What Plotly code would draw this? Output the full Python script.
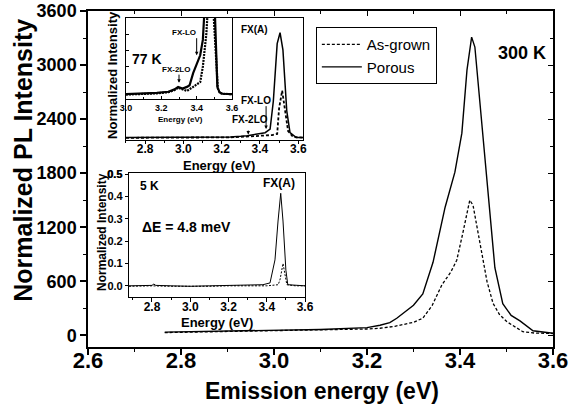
import plotly.graph_objects as go

# ---------------- Main 300 K spectra ----------------
main_e_asgrown = [2.765, 2.9, 3.0, 3.1, 3.2, 3.228, 3.26, 3.3, 3.32, 3.34, 3.361, 3.38, 3.393, 3.406,
                  3.421, 3.428, 3.439, 3.449, 3.458, 3.471, 3.485, 3.501, 3.535, 3.56, 3.6]
main_i_asgrown = [30, 40, 50, 58, 70, 78, 100, 144, 190, 330, 560, 700, 833, 1133,
                  1500, 1444, 1133, 850, 600, 355, 230, 150, 40, 25, 20]
main_e_porous = [2.765, 2.9, 3.0, 3.1, 3.2, 3.228, 3.249, 3.264, 3.3, 3.32, 3.342, 3.368, 3.389, 3.404,
                 3.415, 3.425, 3.432, 3.449, 3.469, 3.475, 3.492, 3.51, 3.529, 3.557, 3.6]
main_i_porous = [35, 45, 55, 65, 85, 111, 140, 189, 333, 460, 810, 1422, 1811, 2244,
                 2944, 3310, 3200, 2200, 1050, 750, 350, 220, 160, 50, 22]
main_xticks = [2.6, 2.8, 3.0, 3.2, 3.4, 3.6]
main_yticks = [0, 600, 1200, 1800, 2400, 3000, 3600]

# ---------------- Upper inset (FX(A), 77 K) ----------------
up_e_porous = [2.7, 2.9, 3.1, 3.245, 3.3, 3.334, 3.386, 3.427, 3.453, 3.47, 3.49, 3.505, 3.52,
               3.54, 3.557, 3.59, 3.625]
up_i_porous = [0.02, 0.02, 0.022, 0.025, 0.03, 0.035, 0.05, 0.06, 0.09, 0.32, 0.79, 0.88, 0.74,
               0.24, 0.06, 0.02, 0.02]
up_e_asgrown = [2.7, 2.9, 3.1, 3.245, 3.35, 3.417, 3.464, 3.49, 3.5, 3.516, 3.53, 3.547, 3.573, 3.625]
up_i_asgrown = [0.018, 0.018, 0.02, 0.022, 0.03, 0.033, 0.041, 0.05, 0.26, 0.405, 0.26, 0.074, 0.025, 0.02]
up_xticks = [2.8, 3.0, 3.2, 3.4, 3.6]

# ---------------- Inner 77 K zoom ----------------
k77_e_porous = [3.0, 3.1, 3.175, 3.24, 3.275, 3.295, 3.32, 3.345, 3.36, 3.38, 3.41, 3.42, 3.435,
                3.447, 3.46, 3.48, 3.495, 3.503, 3.51, 3.517, 3.53, 3.545, 3.6]
k77_i_porous = [0.06, 0.065, 0.075, 0.09, 0.12, 0.15, 0.13, 0.15, 0.17, 0.32, 0.5, 0.54, 0.73,
                1.0, 1.6, 2.5, 1.6, 1.0, 0.45, 0.15, 0.08, 0.065, 0.06]
k77_e_asgrown = [3.0, 3.1, 3.175, 3.24, 3.275, 3.295, 3.32, 3.345, 3.38, 3.42, 3.435, 3.455, 3.46,
                 3.48, 3.497, 3.51, 3.52, 3.53, 3.545, 3.6]
k77_i_asgrown = [0.055, 0.06, 0.07, 0.085, 0.11, 0.14, 0.12, 0.1, 0.15, 0.21, 0.4, 0.81, 1.0,
                 2.0, 1.0, 0.52, 0.13, 0.08, 0.065, 0.06]
k77_xticks = [3.0, 3.2, 3.4, 3.6]

# ---------------- Lower inset (5 K) ----------------
k5_e_porous = [2.68, 2.75, 2.8, 2.81, 2.82, 2.9, 3.0, 3.1, 3.2, 3.3, 3.38, 3.417, 3.443, 3.459,
               3.473, 3.485, 3.5, 3.51, 3.55, 3.6]
k5_i_porous = [0.0, 0.0, 0.002, 0.008, 0.002, 0.0, -0.002, 0.0, 0.002, 0.002, 0.005, 0.013, 0.116, 0.29,
               0.414, 0.29, 0.07, 0.005, 0.002, 0.0]
k5_e_asgrown = [2.68, 2.8, 2.9, 3.0, 3.1, 3.2, 3.3, 3.4, 3.46, 3.47, 3.485, 3.5, 3.505, 3.55, 3.6]
k5_i_asgrown = [-0.002, 0.0, -0.002, -0.003, -0.002, 0.0, 0.0, 0.0, 0.005, 0.03, 0.1, 0.035, 0.005, 0.0, 0.0]
k5_xticks = [2.8, 3.0, 3.2, 3.4, 3.6]
k5_ytop = 0.5

FONT = "Liberation Sans, Arial, sans-serif"
BOLD = dict(family=FONT, color="black", weight="bold")

fig = go.Figure()

# main traces
fig.add_trace(go.Scatter(x=main_e_asgrown, y=main_i_asgrown, name="As-grown", mode="lines",
                         line=dict(color="black", width=1.3, dash="3px,2px")))
fig.add_trace(go.Scatter(x=main_e_porous, y=main_i_porous, name="Porous", mode="lines",
                         line=dict(color="black", width=1.4)))
# dummy for overlay axes (top/right inside ticks)
fig.add_trace(go.Scatter(x=[main_e_porous[0]], y=[main_i_porous[0]], xaxis="x5", yaxis="y5",
                         mode="markers", marker=dict(opacity=0), showlegend=False, hoverinfo="skip"))

# upper inset
fig.add_trace(go.Scatter(x=up_e_asgrown, y=up_i_asgrown, xaxis="x2", yaxis="y2", mode="lines",
                         showlegend=False, line=dict(color="black", width=1.8, dash="3px,2px")))
fig.add_trace(go.Scatter(x=up_e_porous, y=up_i_porous, xaxis="x2", yaxis="y2", mode="lines",
                         showlegend=False, line=dict(color="black", width=1.5)))
# inner 77 K
fig.add_trace(go.Scatter(x=k77_e_asgrown, y=k77_i_asgrown, xaxis="x3", yaxis="y3", mode="lines",
                         showlegend=False, line=dict(color="black", width=2.2, dash="2px,1px")))
fig.add_trace(go.Scatter(x=k77_e_porous, y=k77_i_porous, xaxis="x3", yaxis="y3", mode="lines",
                         showlegend=False, line=dict(color="black", width=2.2)))
# lower 5 K
fig.add_trace(go.Scatter(x=k5_e_asgrown, y=k5_i_asgrown, xaxis="x4", yaxis="y4", mode="lines",
                         showlegend=False, line=dict(color="black", width=1, dash="2px,1.5px")))
fig.add_trace(go.Scatter(x=k5_e_porous, y=k5_i_porous, xaxis="x4", yaxis="y4", mode="lines",
                         showlegend=False, line=dict(color="black", width=1)))

ax_common = dict(showgrid=False, zeroline=False, showline=True, linecolor="black",
                 tickcolor="black", automargin=False)

fig.update_layout(
    width=571, height=416,
    margin=dict(l=88, r=18, t=11, b=69, autoexpand=False),
    paper_bgcolor="white", plot_bgcolor="white",
    font=dict(family=FONT, color="black"),
    xaxis=dict(**ax_common, range=[2.6, 3.6], linewidth=1.5, mirror=True,
               tickvals=main_xticks, ticktext=[f"{v:.1f}" for v in main_xticks],
               ticks="outside", ticklen=6, tickwidth=1.5, ticklabelstandoff=-13,
               minor=dict(dtick=0.1, tick0=2.6, ticks="outside", ticklen=3, tickwidth=1.2, tickcolor="black"),
               tickfont=dict(**BOLD, size=22)),
    yaxis=dict(**ax_common, range=[-130, 3600], linewidth=1.5, mirror=True,
               tickvals=main_yticks, ticks="outside", ticklen=6, tickwidth=1.5,
               minor=dict(dtick=300, tick0=0, ticks="outside", ticklen=3, tickwidth=1.2, tickcolor="black"),
               tickfont=dict(**BOLD, size=18)),
    xaxis5=dict(overlaying="x", side="top", anchor="y", range=[2.6, 3.6], showgrid=False, zeroline=False,
                showline=False, showticklabels=False, tickvals=main_xticks, ticks="inside",
                ticklen=5, tickwidth=1.2, tickcolor="black",
                minor=dict(dtick=0.1, tick0=2.6, ticks="inside", ticklen=3, tickcolor="black")),
    yaxis5=dict(overlaying="y", side="right", anchor="x", range=[-130, 3600], showgrid=False, zeroline=False,
                showline=False, showticklabels=False, tickvals=main_yticks, ticks="inside",
                ticklen=5, tickwidth=1.2, tickcolor="black",
                minor=dict(dtick=300, tick0=0, ticks="inside", ticklen=3, tickcolor="black")),
    # upper inset
    xaxis2=dict(**ax_common, domain=[0.0817, 0.4624], anchor="y2", range=[2.7, 3.625], mirror=True,
                linewidth=1.2, tickvals=up_xticks, ticktext=[f"{v:.1f}" for v in up_xticks],
                ticks="outside", ticklen=3, tickwidth=1, ticklabelstandoff=-6,
                minor=dict(dtick=0.1, tick0=2.7, ticks="outside", ticklen=2, tickcolor="black"),
                tickfont=dict(**BOLD, size=12)),
    yaxis2=dict(**ax_common, domain=[0.616, 0.979], anchor="x2", range=[0, 1.0], mirror=True,
                linewidth=1.2, showticklabels=False, ticks=""),
    # inner 77 K
    xaxis3=dict(**ax_common, domain=[0.0817, 0.3097], anchor="y3", range=[3.0, 3.6], mirror=True,
                linewidth=1.2, tickvals=k77_xticks, ticktext=[f"{v:.1f}" for v in k77_xticks],
                ticks="inside", ticklen=3, tickwidth=1,
                minor=dict(dtick=0.1, tick0=3.0, ticks="inside", ticklen=2, tickcolor="black"),
                tickfont=dict(**BOLD, size=9)),
    yaxis3=dict(**ax_common, domain=[0.738, 0.979], anchor="x3", range=[0, 1.0], mirror=True,
                linewidth=1.2, showticklabels=False, ticks="inside", ticklen=3, dtick=0.2),
    # lower 5 K
    xaxis4=dict(**ax_common, domain=[0.0882, 0.4667], anchor="y4", range=[2.68, 3.6], mirror=True,
                linewidth=1.2, tickvals=k5_xticks, ticktext=[f"{v:.1f}" for v in k5_xticks],
                ticks="outside", ticklen=4, tickwidth=1, ticklabelstandoff=-6,
                minor=dict(dtick=0.1, tick0=2.7, ticks="outside", ticklen=2, tickcolor="black"),
                tickfont=dict(**BOLD, size=12)),
    yaxis4=dict(**ax_common, domain=[0.1488, 0.5179], anchor="x4", range=[-0.05, 0.505], mirror=True,
                linewidth=1.2, tickmode="linear", tick0=0, dtick=0.1, tickformat=".1f",
                ticks="outside", ticklen=3, tickwidth=1, ticklabeloverflow="allow",
                tickfont=dict(**BOLD, size=11)),
    legend=dict(x=0.49, y=0.952, xanchor="left", yanchor="top", bgcolor="white",
                bordercolor="black", borderwidth=1, font=dict(family=FONT, size=15, color="black"),
                itemwidth=40, tracegroupgap=0),
)

ann = []
def txt(text, x, y, size, xref="paper", yref="paper", angle=0, bold=True):
    ann.append(dict(text=text, x=x, y=y, xref=xref, yref=yref, showarrow=False, textangle=angle,
                    xanchor="center", yanchor="middle",
                    font=dict(family=FONT, size=size, color="black", weight="bold" if bold else "normal")))

def arrow(x, y, ax, ay, xref, yref):
    ann.append(dict(text="", x=x, y=y, ax=ax, ay=ay, xref=xref, yref=yref, axref=xref, ayref=yref,
                    showarrow=True, arrowhead=2, arrowsize=0.7, arrowwidth=1, arrowcolor="black"))

# main titles
txt("Emission energy (eV)", 0.503, -0.131, 23)
txt("Normalized PL Intensity", -0.14, 0.557, 25, angle=-90)
txt("300 K", 3.533, 3133, 18, xref="x", yref="y")
# upper inset titles
txt("Normalized Intensity", 0.054, 0.81, 13, angle=-90)
txt("Energy (eV)", 0.282, 0.541, 13)
txt("Energy (eV)", 0.199, 0.676, 8)
txt("FX(A)", 3.37, 0.91, 10, xref="x2", yref="y2")
txt("FX-LO", 3.38, 0.32, 10, xref="x2", yref="y2")
txt("FX-2LO", 3.347, 0.17, 10, xref="x2", yref="y2")
arrow(3.432, 0.09, 3.432, 0.29, "x2", "y2")
arrow(3.339, 0.045, 3.339, 0.09, "x2", "y2")
# 77 K inset
txt("77 K", 3.12, 0.5, 14, xref="x3", yref="y3")
txt("FX-LO", 3.328, 0.82, 8, xref="x3", yref="y3")
txt("FX-2LO", 3.283, 0.37, 8, xref="x3", yref="y3")
arrow(3.40, 0.54, 3.40, 0.77, "x3", "y3")
arrow(3.30, 0.2, 3.30, 0.32, "x3", "y3")
# lower inset
txt("Normalized Intensity", 0.030, 0.342, 12, angle=-90)
txt("Energy (eV)", 0.277, 0.074, 13)
txt("5 K", 2.785, 0.446, 12, xref="x4", yref="y4")
txt("FX(A)", 3.464, 0.46, 12, xref="x4", yref="y4")
txt("ΔE = 4.8 meV", 2.983, 0.263, 14, xref="x4", yref="y4")
# top tick label of the 5 K inset (Plotly suppresses it at the domain edge)
ann.append(dict(text=f"{k5_ytop:.1f}", x=0, y=k5_ytop, xref="x4 domain", yref="y4", xshift=-5,
                xanchor="right", yanchor="middle", showarrow=False,
                font=dict(family=FONT, size=11, color="black", weight="bold")))

fig.update_layout(annotations=ann)
fig.write_html("out.html", config={"displayModeBar": False},
               post_script="document.body.style.margin='0';document.body.style.overflow='hidden';")
